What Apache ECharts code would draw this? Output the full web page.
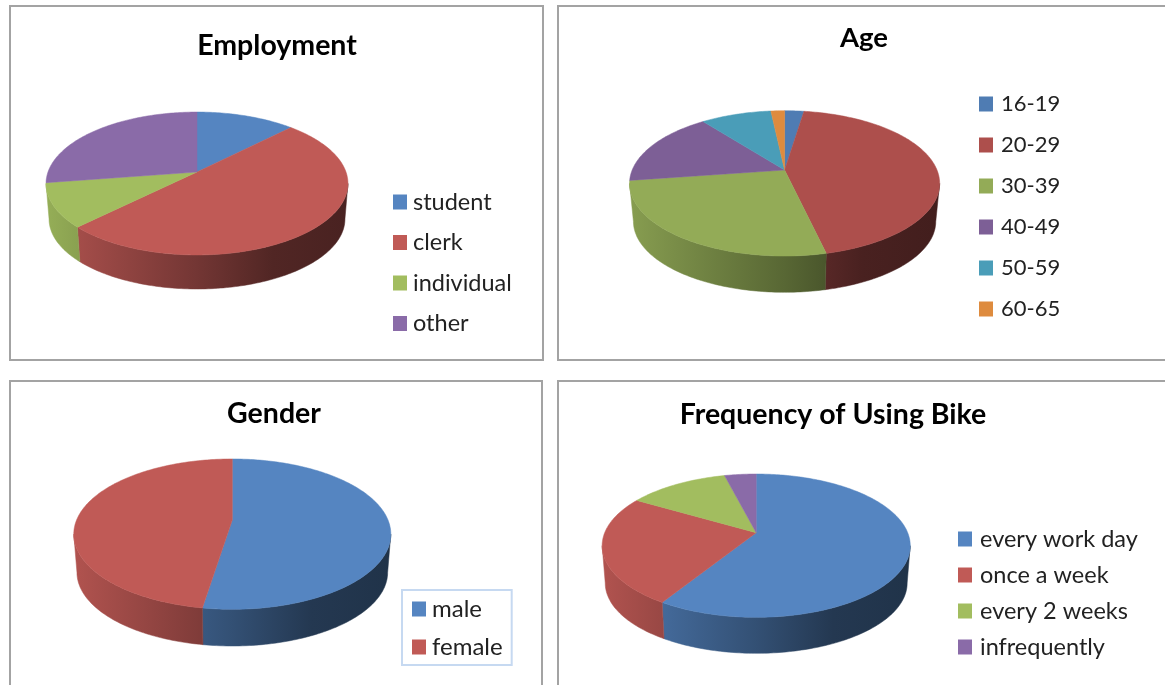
<!DOCTYPE html>
<html><head><meta charset="utf-8">
<style>html,body{margin:0;padding:0;background:#fff}#c{width:1165px;height:685px}</style>
<script src="https://cdn.jsdelivr.net/npm/echarts@6/dist/echarts.min.js"></script>
</head><body><div id="c"></div>
<script>
// ---- data (percent shares) ----
const employmentCategories = ['student','clerk','individual','other'];
const employmentValues = [12.4,50.2,10,27.4];
const ageCategories = ['16-19','20-29','30-39','40-49','50-59','60-65'];
const ageValues = [2.4,44,26.3,16.8,8.8,1.7];
const genderCategories = ['male','female'];
const genderValues = [52.5,47.5];
const frequencyCategories = ['every work day','once a week','every 2 weeks','infrequently'];
const frequencyValues = [58.8,24.7,12.55,3.95];

// ---- styling and layout ----
const paletteA = ['#5585c1','#c05a56','#a2bd5f','#8a6ba8'];
const paletteB = ['#4f7cb3','#ad4f4c','#93ab57','#7d5f96','#4a9db8','#de8b3e'];
const FONT = 'Lato';
const panels = [
 {title:'Employment', titleX:277, titleY:46, titleSize:28.5, cats:employmentCategories, vals:employmentValues, colors:paletteA,
  geo:{cx:197,cy:172,a:69.6,b:149,k:0.161,d:35.7,s:0.98},
  legend:{left:393,top:189,pitch:40.5,font:23.5,textGap:1}, box:[10,6,533,354]},
 {title:'Age', titleX:864, titleY:38, titleSize:27.5, cats:ageCategories, vals:ageValues, colors:paletteB,
  geo:{cx:784.6,cy:170,a:70.2,b:152.4,k:0.184,d:38.4,s:0.975},
  legend:{left:979,top:91,pitch:41,font:22,textGap:3}, box:[558,6,620,354]},
 {title:'Gender', titleX:274, titleY:414, titleSize:28.5, cats:genderCategories, vals:genderValues, colors:paletteA,
  geo:{cx:232.3,cy:520,a:72.5,b:155.7,k:0.188,d:38.5,s:0.98},
  legend:{left:402,top:590,pitch:38,font:24,textGap:1,bordered:true}, box:[10,381,532,330]},
 {title:'Frequency of Using Bike', titleX:833, titleY:415, titleSize:28.5, cats:frequencyCategories, vals:frequencyValues, colors:paletteA,
  geo:{cx:756.2,cy:532.7,a:69.3,b:151.5,k:0.181,d:37.7,s:0.98},
  legend:{left:958,top:526,pitch:36,font:23.5,textGap:3}, box:[558,381,620,330]}
];

function project(g, deg, lower){
  const t = deg*Math.PI/180, u = Math.sin(t), v = -Math.cos(t), w = 1-g.k*v;
  const s = lower ? g.s : 1, dy = lower ? g.d : 0;
  return [g.cx + s*g.b*u/w, g.cy + dy + s*g.a*v/w];
}
function shade(hex, m){
  const n = parseInt(hex.slice(1),16);
  const c = [n>>16,(n>>8)&255,n&255].map(x=>Math.round(x*m));
  return 'rgb('+c.join(',')+')';
}
function wallFill(g, color){
  const half = g.b/Math.sqrt(1-g.k*g.k);
  return {type:'linear',global:true,x:g.cx-half,y:0,x2:g.cx+half,y2:0,
    colorStops:[[0,.92],[.5,.6],[.75,.42],[1,.38]].map(p=>({offset:p[0],color:shade(color,p[1])}))};
}
function sliceRenderer(g, color, startDeg, endDeg){
  return function(){
    const top = [[g.cx,g.cy]];
    for(let d=startDeg; d<endDeg; d+=1) top.push(project(g,d));
    top.push(project(g,endDeg));
    const children = [];
    const lim = Math.asin(g.k)*180/Math.PI;
    const a0 = Math.max(startDeg,90+lim), a1 = Math.min(endDeg,270-lim);
    if(a1>a0){
      const up=[], low=[];
      for(let d=a0; d<a1; d+=1){up.push(project(g,d)); low.push(project(g,d,true));}
      up.push(project(g,a1)); low.push(project(g,a1,true));
      const f = wallFill(g,color);
      children.push({type:'polygon',shape:{points:up.concat(low.reverse())},style:{fill:f,stroke:f,lineWidth:.5},silent:true});
    }
    children.push({type:'polygon',shape:{points:top},style:{fill:color,stroke:color,lineWidth:.5},silent:true});
    return {type:'group',children};
  };
}

const series=[], titles=[], legends=[], graphics=[];
panels.forEach(p=>{
  graphics.push({type:'rect',z:0,shape:{x:p.box[0],y:p.box[1],width:p.box[2],height:p.box[3]},
    style:{fill:'#fff',stroke:'#a3a3a3',lineWidth:2}});
  titles.push({text:p.title,left:p.titleX,top:p.titleY,textAlign:'center',textVerticalAlign:'middle',
    textStyle:{fontFamily:FONT,fontWeight:'bold',fontSize:p.titleSize,color:'#000'},padding:0});
  const total = p.vals.reduce((s,x)=>s+x,0);
  let acc = 0;
  p.vals.forEach((val,i)=>{
    const s = acc/total*360; acc += val; const e = acc/total*360;
    series.push({type:'custom',name:p.cats[i],coordinateSystem:'none',silent:true,animation:false,z:3,
      itemStyle:{color:p.colors[i]},data:[[val]],renderItem:sliceRenderer(p.geo,p.colors[i],s,e)});
  });
  const L = p.legend;
  legends.push(Object.assign({data:p.cats,orient:'vertical',left:L.left,top:L.top,icon:'rect',itemWidth:14,itemHeight:15,
    itemGap:L.pitch-26,selectedMode:false,padding:0,z:6,
    textStyle:{fontFamily:FONT,fontSize:L.font,color:'#222',padding:[0,0,0,L.textGap],lineHeight:26,height:26}},
    L.bordered?{backgroundColor:'#fff',borderColor:'#c6d9f1',borderWidth:2,padding:[6,9,5,10]}:{}));
});

const chart = echarts.init(document.getElementById('c'),null,{renderer:'canvas'});
chart.setOption({animation:false,backgroundColor:'#fff',title:titles,legend:legends,series,
  graphic:{elements:graphics}});
</script></body></html>
